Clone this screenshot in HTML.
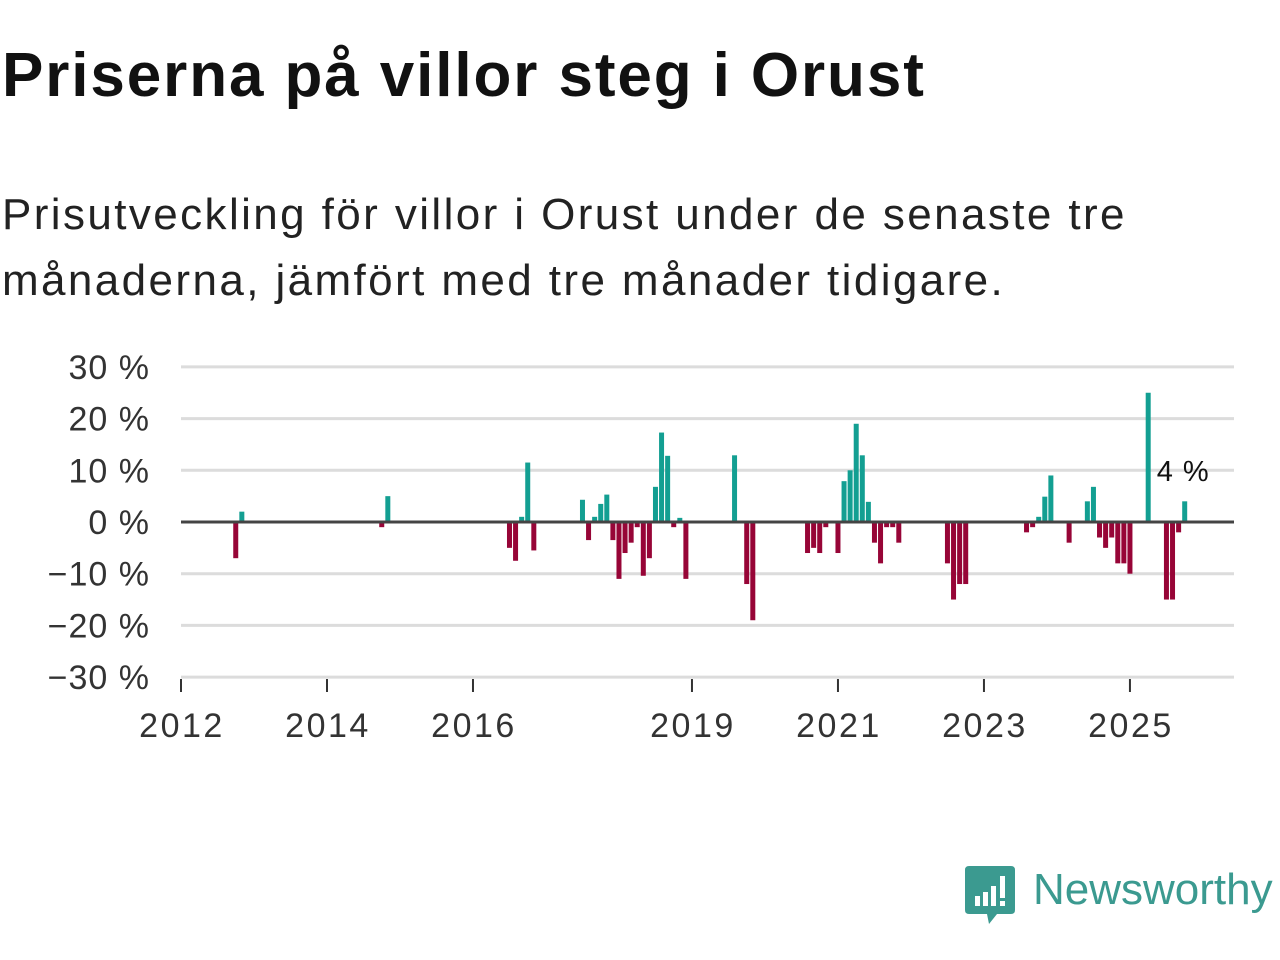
<!DOCTYPE html>
<html><head><meta charset="utf-8"><style>
body{margin:0;width:1280px;height:960px;background:#fff;font-family:"Liberation Sans","DejaVu Sans",sans-serif;overflow:hidden;position:relative}
h1{position:absolute;left:2px;top:40px;margin:0;font-size:62px;font-weight:bold;color:#111;letter-spacing:1.9px}
.sub{position:absolute;left:2px;top:182px;font-size:44px;line-height:66px;color:#222;letter-spacing:2.4px;white-space:nowrap}
</style></head><body>
<h1>Priserna på villor steg i Orust</h1>
<div class="sub">Prisutveckling för villor i Orust under de senaste tre<br>månaderna, jämfört med tre månader tidigare.</div>
<svg id="chart" width="1280" height="960" style="position:absolute;left:0;top:0" xmlns="http://www.w3.org/2000/svg"></svg>
<div style="position:absolute;left:965px;top:866px;width:320px;height:60px">
<svg width="52" height="60" viewBox="0 0 52 60" style="position:absolute;left:0;top:0"><path d="M4 0H46Q50 0 50 4V44Q50 48 46 48H32L24 58L22 48H4Q0 48 0 44V4Q0 0 4 0Z" fill="#3b9a90"/><rect x="10" y="30" width="5" height="10" fill="#fff"/><rect x="18" y="26" width="5" height="14" fill="#fff"/><rect x="26" y="20" width="5" height="20" fill="#fff"/><rect x="35" y="10" width="5" height="22" fill="#fff"/><rect x="35" y="35" width="5" height="5" fill="#fff"/></svg>
<span style="position:absolute;left:68px;top:0;font-size:44px;color:#3b9a90;line-height:48px">Newsworthy</span></div>
<script>
const months=[9,10,33,34,54,55,56,57,58,66,67,68,69,70,71,72,73,74,75,76,77,78,79,80,81,82,83,91,93,94,103,104,105,106,108,109,110,111,112,113,114,115,116,117,118,126,127,128,129,139,140,141,142,143,146,149,150,151,152,153,154,155,156,159,162,163,164,165];
const values=[-7,2,-1,5,-5,-7.5,1,11.5,-5.5,4.3,-3.5,1,3.5,5.3,-3.5,-11,-6,-4,-1,-10.4,-7,6.8,17.3,12.8,-1,0.8,-11,12.9,-12,-19,-6,-5,-6,-1,-6,7.9,10,19,12.9,3.9,-4,-8,-1,-1,-4,-8,-15,-12,-12,-2,-1,1,4.9,9,-4,4,6.8,-3,-5,-3,-8,-8,-10,25,-15,-15,-2,4];
const yTicks=[30,20,10,0,-10,-20,-30];
const yLabels=["30 %","20 %","10 %","0 %","\u221210 %","\u221220 %","\u221230 %"];
const xTickYears=[2012,2014,2016,2019,2021,2023,2025];
const lastLabel="4 %";
const NS="http://www.w3.org/2000/svg";
const svg=document.getElementById('chart');
const x=m=>181+m*6.083;
const xy=yr=>x((yr-2012)*12);
const y=v=>522-v*5.17;
function mk(t,a){const e=document.createElementNS(NS,t);for(const k in a)e.setAttribute(k,a[k]);svg.appendChild(e);return e;}
yTicks.forEach((t,i)=>{
 if(t!==0){const l=mk('line',{x1:181,x2:1234,y1:y(t),y2:y(t),stroke:'#dcdcdc','stroke-width':3});
 
 }
 const tx=mk('text',{x:150,y:y(t)+12,'text-anchor':'end','font-size':34,'letter-spacing':1,fill:'#333','font-family':'Liberation Sans, sans-serif'});
 tx.textContent=yLabels[i];
 
 
});
xTickYears.forEach(yr=>{
 const tk=mk('line',{x1:xy(yr),x2:xy(yr),y1:679,y2:692,stroke:'#333','stroke-width':2});
 
 
 const tx=mk('text',{x:xy(yr)+1,y:737,'text-anchor':'middle','font-size':34,'letter-spacing':2.5,fill:'#333','font-family':'Liberation Sans, sans-serif'});
 tx.textContent=String(yr);
 
 
});
months.forEach((m,i)=>{
 const v=values[i];
 const r=mk('rect',{x:x(m)-2.5,width:5,y:v>=0?y(v):y(0),height:Math.abs(y(v)-y(0)),fill:v>=0?'#139f92':'#970537'});
 
 
});
const zl=mk('line',{x1:181,x2:1234,y1:y(0),y2:y(0),stroke:'#444','stroke-width':3});


const lb=mk('text',{x:x(months[months.length-1])-28,y:481,'font-size':29,'letter-spacing':1,fill:'#111','font-family':'Liberation Sans, sans-serif'});
lb.textContent=lastLabel;


</script>
</body></html>
